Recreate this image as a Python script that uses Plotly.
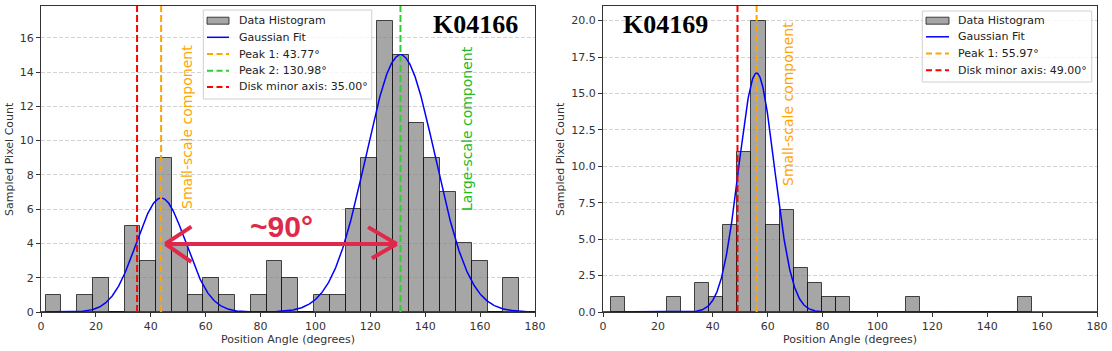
import numpy as np
import plotly.graph_objects as go

# ---------------- data ----------------
# Left panel (K04166)
left_bin_start = 1.7
left_bin_width = 5.75
left_counts = [1, 0, 1, 2, 0, 5, 3, 9, 4, 1, 2, 1, 0, 1, 3, 2, 0, 1, 1, 6,
               9, 17, 15, 11, 9, 7, 4, 3, 0, 2]
left_fit_amp = [6.65, 15.0]
left_fit_mean = [43.77, 130.98]
left_fit_sigma = [9.0, 12.6]
left_peak1 = 43.77
left_peak2 = 130.98
left_disk = 35.00

# Right panel (K04169)
right_bin_start = 3.0
right_bin_width = 5.11
right_counts = [1, 0, 0, 0, 1, 0, 2, 1, 6, 11, 20, 6, 7, 3, 2, 1, 1, 0, 0, 0,
                0, 1, 0, 0, 0, 0, 0, 0, 0, 1]
right_fit_amp = [16.4]
right_fit_mean = [55.97]
right_fit_sigma = [6.5]
right_peak1 = 55.97
right_disk = 49.00

x_fit = np.linspace(0, 180, 1000)


def centers(start, width, n):
    return [start + width * (i + 0.5) for i in range(n)]


def gauss_sum(x, amps, means, sigmas):
    y = np.zeros_like(x)
    for a, m, s in zip(amps, means, sigmas):
        y += a * np.exp(-(x - m) ** 2 / (2 * s ** 2))
    return y


# ---------------- figure ----------------
W, H = 1112, 351
ml, mr, mt, mb = 41, 15, 6, 39
PW, PH = W - ml - mr, H - mt - mb


def px(x):
    return (x - ml) / PW


def py(y):
    return (H - mb - y) / PH


fig = go.Figure()

BAR_FILL = "rgba(128,128,128,0.7)"
BAR_EDGE = "rgba(0,0,0,0.7)"
DASH = "7px,3px"
GREEN = "#33cc33"
TXT = "#333"


def add_panel(xa, ya, start, width, counts, amps, means, sigmas, vlines, ytop):
    fig.add_trace(go.Bar(
        x=centers(start, width, len(counts)), y=counts, width=width,
        marker=dict(color=BAR_FILL, line=dict(color=BAR_EDGE, width=1)),
        name="Data Histogram", xaxis=xa, yaxis=ya, showlegend=False))
    fig.add_trace(go.Scatter(
        x=x_fit, y=gauss_sum(x_fit, amps, means, sigmas), mode="lines",
        line=dict(color="blue", width=1.5), name="Gaussian Fit",
        xaxis=xa, yaxis=ya, showlegend=False))
    for val, color, label in vlines:
        fig.add_trace(go.Scatter(
            x=[val, val], y=[0, ytop], mode="lines",
            line=dict(color=color, width=2, dash=DASH), name=label,
            xaxis=xa, yaxis=ya, showlegend=False))


left_lines = [(left_peak1, "orange", f"Peak 1: {left_peak1:.2f}°"),
              (left_peak2, GREEN, f"Peak 2: {left_peak2:.2f}°"),
              (left_disk, "red", f"Disk minor axis: {left_disk:.2f}°")]
right_lines = [(right_peak1, "orange", f"Peak 1: {right_peak1:.2f}°"),
               (right_disk, "red", f"Disk minor axis: {right_disk:.2f}°")]

add_panel("x", "y", left_bin_start, left_bin_width, left_counts,
          left_fit_amp, left_fit_mean, left_fit_sigma, left_lines, 17.85)
add_panel("x2", "y2", right_bin_start, right_bin_width, right_counts,
          right_fit_amp, right_fit_mean, right_fit_sigma, right_lines, 21.0)

axis_common = dict(showline=True, linecolor="#333", linewidth=1, mirror=True,
                   ticks="outside", ticklen=4, tickcolor="#333",
                   tickfont=dict(family="DejaVu Sans", size=11, color=TXT),
                   zeroline=False, automargin=False)
grid = dict(showgrid=True, gridcolor="rgba(200,200,200,0.8)", griddash="4px,2px", gridwidth=1)

d1 = px(535)
d2 = px(603)

fig.update_layout(
    width=W, height=H, margin=dict(l=ml, r=mr, t=mt, b=mb),
    plot_bgcolor="white", paper_bgcolor="white", bargap=0, showlegend=False,
    xaxis=dict(domain=[0, d1], range=[0, 180], dtick=20, showgrid=False, **axis_common),
    yaxis=dict(range=[0, 17.85], dtick=2, **grid, **axis_common),
    xaxis2=dict(domain=[d2, 1], range=[0, 180], dtick=20, showgrid=False,
                anchor="y2", **axis_common),
    yaxis2=dict(range=[0, 21.0], dtick=2.5, tickformat=".1f", anchor="x2",
                **grid, **axis_common),
)

LBL = dict(family="DejaVu Sans", size=11, color=TXT)


def ann(text, x, y, font, xref="paper", yref="paper", angle=0):
    fig.add_annotation(text=text, x=x, y=y, xref=xref, yref=yref, textangle=angle,
                       showarrow=False, xanchor="center", yanchor="middle", font=font)


# axis titles
ann("Position Angle (degrees)", px((41 + 535) / 2), py(340), LBL)
ann("Position Angle (degrees)", px((603 + 1097) / 2), py(340), LBL)
ann("Sampled Pixel Count", px(9), py(159), LBL, angle=-90)
ann("Sampled Pixel Count", px(560), py(159), LBL, angle=-90)

# panel titles
TFONT = dict(family="Liberation Serif", size=26, color="black")
ann("<b>K04166</b>", px(475.5), py(24), TFONT)
ann("<b>K04169</b>", px(665.5), py(24), TFONT)

# component labels
ann("Small-scale component", px(187), py(127), dict(family="DejaVu Sans", size=14, color="orange"), angle=-90)
ann("Large-scale component", px(467), py(129), dict(family="DejaVu Sans", size=14, color="#22bb22"), angle=-90)
ann("Small-scale component", px(788), py(104), dict(family="DejaVu Sans", size=14, color="orange"), angle=-90)

# ~90° double arrow
CRIM = "#e0284a"
ann("<b>~90°</b>", 87.5, 5.0, dict(family="Liberation Sans", size=30, color=CRIM), xref="x", yref="y")
for (x0, y0, x1, y1) in [(45.3, 3.97, 129.6, 3.97),
                         (45.3, 3.97, 54.8, 4.98), (45.3, 3.97, 54.8, 2.92),
                         (129.6, 3.97, 119.2, 4.95), (129.6, 3.97, 120.6, 3.14)]:
    fig.add_shape(type="line", x0=x0, y0=y0, x1=x1, y1=y1, xref="x", yref="y",
                  line=dict(color=CRIM, width=4))


# legends (drawn to match matplotlib legend metrics)
def legend_box(x0, x1, y0, y1, entries, hx0, hx1, tx):
    fig.add_shape(type="rect", xref="paper", yref="paper",
                  x0=px(x0), x1=px(x1), y0=py(y1), y1=py(y0),
                  fillcolor="rgba(255,255,255,0.8)", line=dict(color="#d0d0d0", width=1))
    for kind, color, label, yc in entries:
        if kind == "bar":
            fig.add_shape(type="rect", xref="paper", yref="paper",
                          x0=px(hx0), x1=px(hx1), y0=py(yc + 3.5), y1=py(yc - 3.5),
                          fillcolor=BAR_FILL, line=dict(color=BAR_EDGE, width=1))
        else:
            fig.add_shape(type="line", xref="paper", yref="paper",
                          x0=px(hx0), x1=px(hx1), y0=py(yc), y1=py(yc),
                          line=dict(color=color, width=2 if kind == "dash" else 1.5,
                                    dash="6px,3.5px" if kind == "dash" else "solid"))
        fig.add_annotation(text=label, x=px(tx), y=py(yc), xref="paper", yref="paper",
                           showarrow=False, xanchor="left", yanchor="middle",
                           font=dict(family="DejaVu Sans", size=11, color="#222"))


yl = [20.7, 37.3, 54.0, 70.7, 87.0]
legend_box(203.3, 371.7, 10, 99,
           [("bar", None, "Data Histogram", yl[0]),
            ("line", "blue", "Gaussian Fit", yl[1])] +
           [("dash", c, lab, yl[2 + i]) for i, (_, c, lab) in enumerate(left_lines)],
           207, 229, 237)
legend_box(922.3, 1091.7, 11, 82,
           [("bar", None, "Data Histogram", yl[0]),
            ("line", "blue", "Gaussian Fit", yl[1] - 0.5)] +
           [("dash", c, lab, yl[2 + i] - 0.5) for i, (_, c, lab) in enumerate(right_lines)],
           926, 949, 956)

fig.write_html("out.html", config={"displayModeBar": False},
               post_script="document.body.style.margin='0';document.body.style.overflow='hidden';")
